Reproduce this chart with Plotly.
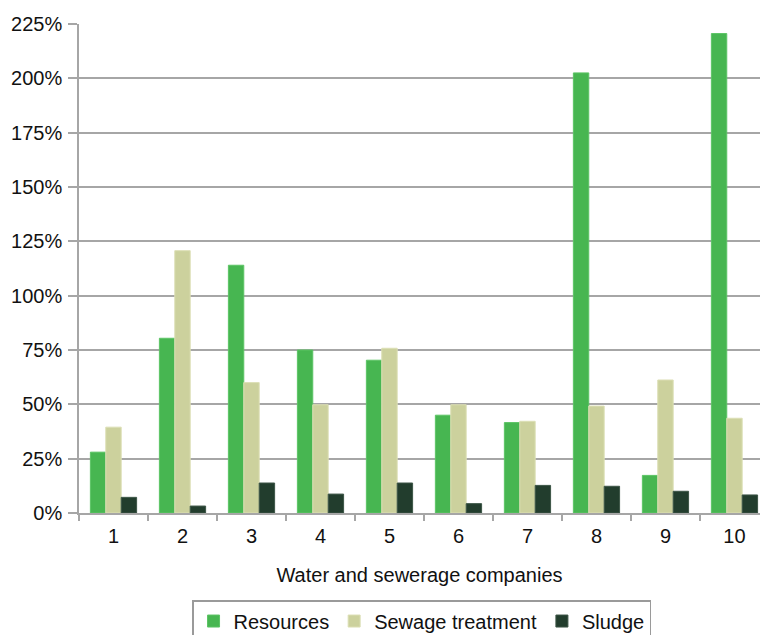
import plotly.graph_objects as go

companies = ["1", "2", "3", "4", "5", "6", "7", "8", "9", "10"]
resources = [28, 80.4, 114, 75, 70.3, 45, 41.6, 202.5, 17.3, 220.6]
sewage_treatment = [39.5, 120.7, 60, 49.8, 75.8, 49.8, 42.2, 49.2, 61.2, 43.6]
sludge = [7.2, 3.2, 13.8, 8.7, 13.8, 4.3, 12.7, 12.3, 10, 8.3]
y_ticks = [0, 25, 50, 75, 100, 125, 150, 175, 200, 225]

series = [
    ("Resources", resources, "#47b651", "#5cc465"),
    ("Sewage treatment", sewage_treatment, "#ccd19d", "#dcdfb5"),
    ("Sludge", sludge, "#223d2d", "#3c5546"),
]

fig = go.Figure()
for name, vals, color, edge in series:
    fig.add_trace(go.Bar(
        x=companies, y=vals, name=name,
        marker=dict(color=color, line=dict(color=edge, width=1)),
    ))

grid = "#a6a6a6"
font = "Liberation Sans, Arial, sans-serif"
fs = 20

fig.update_layout(
    width=760, height=635,
    margin=dict(l=79, r=0, t=24, b=122, autoexpand=False),
    paper_bgcolor="white", plot_bgcolor="white",
    barmode="group", bargap=0.33, bargroupgap=0,
    font=dict(family=font, size=fs, color="#111111"),
    showlegend=True,
    legend=dict(
        orientation="h", x=0.166, xanchor="left", y=-0.178, yanchor="top",
        bordercolor="#9a9a9a", borderwidth=1.5,
        font=dict(family=font, size=fs, color="#111111"),
        itemclick=False, traceorder="normal",
    ),
)
fig.update_xaxes(
    type="category", range=[-0.5, 9.37],
    tickson="boundaries", ticks="outside", ticklen=6, tickcolor=grid, tickwidth=1.5,
    ticklabelstandoff=4,
    showline=True, linecolor=grid, linewidth=1.5, showgrid=False,
    tickfont=dict(size=fs),
    title=dict(text="Water and sewerage companies", font=dict(size=fs), standoff=22),
)
fig.update_yaxes(
    range=[0, 225], tickvals=y_ticks, ticktext=[f"{v}%" for v in y_ticks],
    ticks="outside", ticklen=9, tickcolor=grid, tickwidth=1.5,
    ticklabelstandoff=2,
    showline=True, linecolor=grid, linewidth=1.5,
    showgrid=True, gridcolor=grid, gridwidth=1.5, zeroline=False,
    tickfont=dict(size=fs),
)

fig.write_html("out.html")
